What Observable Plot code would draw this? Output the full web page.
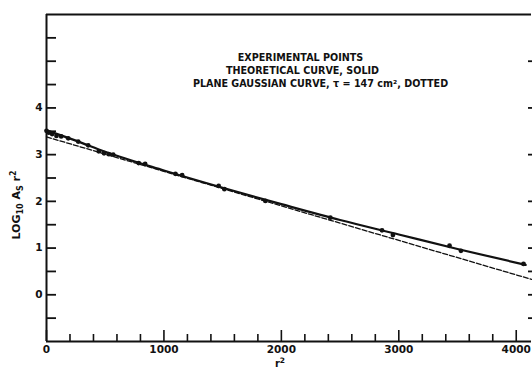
<!DOCTYPE html>
<html>
<head>
<meta charset="utf-8">
<script src="https://cdn.jsdelivr.net/npm/d3@7"></script>
<script src="https://cdn.jsdelivr.net/npm/@observablehq/plot@0.6"></script>
<style>
  html, body { margin: 0; padding: 0; background: #fff; }
  svg { display: block; }
</style>
</head>
<body>
<div id="chart"></div>
<script>
// Experimental points: r^2 and log10(As r^2)
const expR2  = [0, 20, 48, 85, 125, 185, 270, 355, 445, 490, 530, 568, 785, 840, 1098, 1155, 1466, 1515, 1864, 2417, 2857, 2950, 3432, 3529, 4062];
const expLog = [3.51, 3.47, 3.44, 3.40, 3.39, 3.35, 3.28, 3.20, 3.07, 3.03, 3.01, 3.00, 2.82, 2.80, 2.59, 2.56, 2.33, 2.26, 2.01, 1.65, 1.38, 1.28, 1.05, 0.94, 0.66];

// Theoretical curve (solid)
const theoR2  = [0, 250, 500, 1000, 1500, 2000, 2500, 3000, 3500, 4080];
const theoLog = [3.52, 3.30, 3.06, 2.66, 2.29, 1.94, 1.60, 1.29, 0.98, 0.64];

// Plane Gaussian curve, tau = 147 cm^2 (dotted)
const gaussR2  = [0, 4130];
const gaussLog = [3.38, 0.33];

// Axis ticks
const xMajorTicks = [0, 1000, 2000, 3000, 4000];
const xMinorTicks = [200, 400, 600, 800, 1200, 1400, 1600, 1800, 2200, 2400, 2600, 2800, 3200, 3400, 3600, 3800];
const yLabelTicks = [0, 1, 2, 3, 4];
const yAllTicks = [-0.5, 0, 0.5, 1, 1.5, 2, 2.5, 3, 3.5, 4, 4.5, 5, 5.5];
const yRightTicks = [-0.5, 0, 0.5, 1, 1.5, 2, 3, 4, 5];

const legendLines = [
  "EXPERIMENTAL POINTS",
  "THEORETICAL CURVE, SOLID",
  "PLANE GAUSSIAN CURVE, \u03C4 = 147 cm\u00B2, DOTTED"
];

const expData = expR2.map((r, i) => ({r, v: expLog[i]}));
const theoData = theoR2.map((r, i) => ({r, v: theoLog[i]}));
const gaussData = gaussR2.map((r, i) => ({r, v: gaussLog[i]}));

const FONT = "DejaVu Sans";
const blank = () => "";

const chart = Plot.plot({
  width: 532,
  height: 371,
  marginLeft: 46,
  marginRight: 1,
  marginTop: 14,
  marginBottom: 30,
  style: {fontFamily: FONT, fontSize: "9px", fontWeight: "bold", color: "#111", background: "#fff"},
  x: {domain: [0, 4130]},
  y: {domain: [-1, 6]},
  marks: [
    // frame lines
    Plot.ruleY([6], {stroke: "#111", strokeWidth: 2.2}),
    Plot.ruleX([0], {stroke: "#111", strokeWidth: 2}),
    Plot.ruleY([-1], {stroke: "#111", strokeWidth: 2}),
    // left axis ticks (inward) and labels
    Plot.axisY({ticks: yAllTicks, tickSize: -10, tickFormat: blank, stroke: "#111", strokeWidth: 1.8, label: null}),
    Plot.axisY({ticks: yLabelTicks, tickSize: 0, tickPadding: 4, tickFormat: d => String(d), label: null, fontSize: 10.5, fontWeight: "bold", fill: "#111"}),
    // right axis ticks (inward)
    Plot.axisY({anchor: "right", ticks: yRightTicks, tickSize: -4, tickFormat: blank, stroke: "#111", strokeWidth: 1.8, label: null}),
    // bottom axis: major & minor ticks pointing up, labels
    Plot.axisX({ticks: xMajorTicks, tickSize: -11, tickFormat: blank, stroke: "#111", strokeWidth: 1.6, label: null}),
    Plot.axisX({ticks: xMinorTicks, tickSize: -7, tickFormat: blank, stroke: "#111", strokeWidth: 1.6, label: null}),
    Plot.axisX({ticks: xMajorTicks, tickSize: 0, tickPadding: 4, tickFormat: d => String(d), label: null, fontSize: 10.5, fontWeight: "bold", fill: "#111"}),
    // curves
    Plot.line(gaussData, {x: "r", y: "v", stroke: "#111", strokeWidth: 1.3, strokeDasharray: "5,2"}),
    Plot.line(theoData, {x: "r", y: "v", stroke: "#111", strokeWidth: 2.2, curve: "monotone-x"}),
    Plot.dot(expData, {x: "r", y: "v", r: 2.4, fill: "#111", stroke: "none"}),
    // legend text
    Plot.text([legendLines[0]], {frameAnchor: "top-left", dx: 254, dy: 40, text: d => d, textAnchor: "middle", fontSize: 9.6, fontWeight: "bold", fill: "#111"}),
    Plot.text([legendLines[1]], {frameAnchor: "top-left", dx: 256, dy: 53, text: d => d, textAnchor: "middle", fontSize: 9.6, fontWeight: "bold", fill: "#111"}),
    Plot.text([legendLines[2]], {frameAnchor: "top-left", dx: 274, dy: 66, text: d => d, textAnchor: "middle", fontSize: 9.6, fontWeight: "bold", fill: "#111"})
  ]
});

document.getElementById("chart").appendChild(chart);

// axis titles with sub/superscripts
const svg = d3.select(chart);
const yl = svg.append("text")
  .attr("transform", "translate(20,205) rotate(-90)")
  .attr("text-anchor", "middle")
  .attr("font-family", FONT).attr("font-weight", "bold").attr("font-size", 11).attr("fill", "#111");
yl.append("tspan").text("LOG");
yl.append("tspan").attr("font-size", 8).attr("dy", 3).text("10");
yl.append("tspan").attr("dy", -3).text(" A");
yl.append("tspan").attr("font-size", 8).attr("dy", 3).text("S");
yl.append("tspan").attr("dy", -3).text(" r");
yl.append("tspan").attr("font-size", 8).attr("dy", -4).text("2");

const xl = svg.append("text")
  .attr("x", 280).attr("y", 367)
  .attr("text-anchor", "middle")
  .attr("font-family", FONT).attr("font-weight", "bold").attr("font-size", 10).attr("fill", "#111");
xl.append("tspan").text("r");
xl.append("tspan").attr("font-size", 7.5).attr("dy", -4).text("2");
</script>
</body>
</html>
